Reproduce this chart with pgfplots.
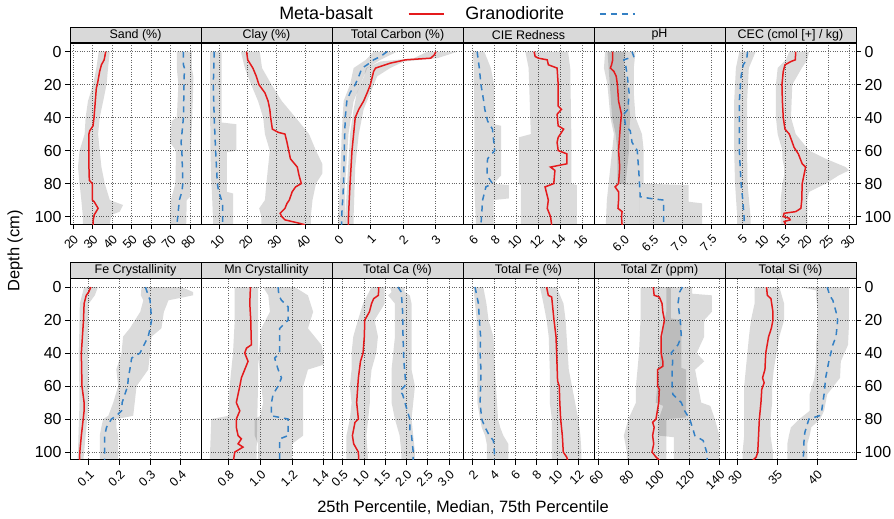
\documentclass[border=0pt]{standalone}
\usepackage{fontspec}
\setmainfont{Liberation Sans}
\usepackage{pgfplots}
\pgfplotsset{compat=1.18}
\definecolor{mbred}{RGB}{228,26,28}
\definecolor{gdblue}{RGB}{52,128,196}
\definecolor{stripgray}{RGB}{217,217,217}
\pgfplotsset{
  panel/.style={
    scale only axis, width=131bp, height=181bp, anchor=north west,
    y dir=reverse, ymin=-5.2, ymax=104.5, ytick={0,20,...,100},
    grid=major, major grid style={dotted, black!60, line width=0.6bp},
    axis line style={line width=0.8bp},
    tick align=outside, major tick length=5bp, tick style={black, line width=0.6bp},
    xtick pos=lower,
    /pgf/number format/assume math mode=true,
    yticklabel style={font=\fontsize{16}{16}\selectfont},
    xticklabel style={rotate=45, anchor=north east, font=\fontsize{12.5}{13}\selectfont},
    every axis title/.style={at={(0.5,1)}, anchor=south, draw=black, line width=0.8bp,
      fill=stripgray, minimum width=131bp, minimum height=15.5bp, inner sep=0pt,
      font=\fontsize{12.5}{13}\selectfont},
  },
  inner/.style={ytick style={draw=none}, yticklabels={}},
  first/.style={ytick pos=left},
  last/.style={ytick pos=right, yticklabel pos=right},
  band/.style={fill=black, fill opacity=0.14, draw=none, forget plot},
  mb/.style={mbred, line width=1.5bp, forget plot},
  gd/.style={gdblue, line width=1.5bp, dash pattern=on 6bp off 5bp, forget plot},
}
\begin{document}
\begin{tikzpicture}
\path[use as bounding box] (0,0) rectangle (894bp,-519bp);

% ---------- top row ----------
\begin{axis}[panel, first, at={(70bp,-43bp)}, title={Sand (\%)},
  xmin=18.5, xmax=85.6, xtick={20,30,...,80},
  legend plot pos=right, legend columns=2,
  legend image code/.code={\draw[#1] (0bp,0bp) -- (35bp,0bp);},
  legend style={at={(2.927,1.16)}, anchor=center, draw=none, fill=none,
    font=\fontsize{18}{18}\selectfont, nodes={inner xsep=8bp},
    /tikz/every odd column/.append style={column sep=27bp},
    /tikz/every even column/.append style={column sep=13bp}}]
\addplot[band] coordinates {(33.2,0) (32,10) (30.3,20) (27.7,30) (26.5,40) (26,50) (23.4,60) (22.6,70) (23.4,80) (24.3,90) (25.1,100) (25.1,106)
  (39,106) (39,104) (39.7,99) (44,97) (45.7,93) (38.9,90) (36.3,80) (34.6,70) (33.7,60) (32.9,50) (33.7,40) (35.5,30) (37.2,20) (38,10) (38.9,0)};
\addplot[band] coordinates {(73.2,0) (73.2,10) (74,20) (73.2,40) (70.6,42) (69.7,55) (72.8,60) (72.5,80) (70.1,90) (69.8,106)
  (78,106) (78.3,90) (80,88) (80.4,60) (80.9,45) (81.4,30) (81.7,15) (80.9,10) (80.9,0)};
\addplot[mb] coordinates {(36.8,0) (36,5) (34.6,8) (33.7,12) (32.5,20) (32,22) (30.8,40) (30.3,45) (28.6,48) (28.2,50) (28.1,60) (28.2,70) (28.4,78) (29.9,80) (30,90) (30.9,91) (31.9,93) (32.9,95) (31.9,97) (30.9,99) (30.4,102) (30.3,105)};
\addplot[gd] coordinates {(76.6,0) (76.6,8) (77.1,10) (76.9,20) (76.6,40) (75.4,55) (75.8,60) (76.3,80) (75.8,85) (74.5,90) (73.7,100) (73.2,105)};
\addlegendimage{mbred, line width=1.5bp}
\addlegendentry{Meta-basalt}
\addlegendimage{gdblue, line width=1.5bp, dash pattern=on 6bp off 5bp}
\addlegendentry{Granodiorite}
\end{axis}

\begin{axis}[panel, inner, at={(201bp,-43bp)}, title={Clay (\%)},
  xmin=3.7, xmax=49.4, xtick={10,20,30,40}]
\addplot[band] coordinates {(17.6,0) (19,10) (21.2,20) (23.6,30) (25.4,40) (26,50) (27.7,60) (27.1,70) (26.5,80) (26,90) (24,95) (24.8,100) (24.8,106)
  (42,106) (42,100) (42.6,90) (43.8,80) (46,74) (46,68) (43.8,60) (41.4,50) (36.7,40) (31.9,30) (28.3,20) (25,10) (24.2,0)};
\addplot[band] coordinates {(6.9,0) (6.9,40) (7,60) (7.3,80) (7.5,85) (8,106)
  (14.9,106) (14.9,86) (12.7,85) (12.7,61) (16,60) (16,44) (10.9,43) (10.9,0)};
\addplot[mb] coordinates {(19.6,0) (20,5) (21.8,10) (23,15) (23.9,20) (26,25) (27.1,30) (27.7,35) (28,40) (28.6,47) (30.7,49) (33,50) (33.7,55) (34.3,60) (34.9,65) (37.3,70) (37.9,75) (38.7,80) (36.7,82) (35.5,85) (34.5,90) (33.7,92) (33,95) (31.3,98) (31.9,100) (33,102) (37.9,104) (40,105)};
\addplot[gd] coordinates {(8.3,0) (8,20) (8.3,40) (8.8,60) (9.4,80) (9.9,85) (10.5,88) (11.2,92) (11.2,105)};
\end{axis}

\begin{axis}[panel, inner, at={(332bp,-43bp)}, title={Total Carbon (\%)},
  xmin=-0.2, xmax=3.86, xtick={0,1,2,3}]
\addplot[band] coordinates {(2.76,0) (2.34,4) (1.3,6) (0.85,10) (0.8,15) (0.57,25) (0.47,35) (0.36,50) (0.3,70) (0.21,100) (0.21,106)
  (0.47,106) (0.47,100) (0.52,70) (0.63,50) (0.78,35) (0.99,25) (1.2,15) (1.6,10) (2.03,6) (3.07,4) (3.7,0)};
\addplot[band] coordinates {(1.09,0) (0.85,5) (0.47,10) (0.36,20) (0.16,30) (0.1,50) (0.05,80) (0,100) (0,106)
  (0.21,106) (0.21,80) (0.31,50) (0.47,30) (0.68,20) (0.89,10) (1.3,5) (1.82,0)};
\addplot[mb] coordinates {(3.02,0) (2.97,2) (2.86,4) (2.08,5) (1.61,7) (1.3,9) (1.15,10) (1.09,12) (0.99,20) (0.89,25) (0.78,30) (0.63,35) (0.52,40) (0.47,50) (0.42,60) (0.36,80) (0.31,100) (0.31,105)};
\addplot[gd] coordinates {(1.51,0) (1.3,3) (1.09,5) (0.89,8) (0.73,10) (0.63,15) (0.52,20) (0.36,25) (0.26,30) (0.21,40) (0.18,60) (0.16,80) (0.1,100) (0.1,105)};
\end{axis}

\begin{axis}[panel, inner, at={(463bp,-43bp)}, title={CIE Redness},
  xmin=5.11, xmax=17.07, xtick={6,8,...,16}]
\addplot[band] coordinates {(10.8,0) (11.1,10) (11.3,50) (10.2,52) (10.2,80) (10.4,81) (10.4,106)
  (15.5,106) (15.5,81) (15,80) (15,50) (14.9,10) (14.7,0)};
\addplot[band] coordinates {(6,0) (6.1,10) (6.15,45) (6.15,80) (6.2,90) (6.3,106)
  (7.9,106) (7.9,90) (9.3,89) (9.3,81) (7.9,80) (8.6,75) (8.6,45) (7.95,44) (7.95,20) (7.65,10) (7.05,0)};
\addplot[mb] coordinates {(11.6,0) (11.7,3) (12,4) (12.8,5) (12.9,8) (13.7,10) (13.8,20) (13.8,33) (14.1,35) (13.7,38) (13.8,45) (14.3,47) (13.8,52) (13.7,55) (13.8,60) (14.6,62) (14.6,68) (13.1,70) (13.5,72) (13.4,80) (12.6,82) (12.9,90) (12.8,95) (13.1,100) (13.2,105)};
\addplot[gd] coordinates {(6.4,0) (6.6,10) (6.75,20) (7,30) (7.1,35) (7.35,42) (7.8,47) (8,60) (7.35,65) (7.3,75) (7.8,80) (7.2,82) (6.9,90) (6.8,100) (6.75,105)};
\end{axis}

\begin{axis}[panel, inner, at={(594bp,-43bp)}, title={pH},
  xmin=5.49, xmax=7.73, xtick={6,6.5,7,7.5}, xticklabels={6.0,6.5,7.0,7.5}]
\addplot[band] coordinates {(5.68,0) (5.66,10) (5.72,20) (5.77,40) (5.83,50) (5.8,60) (5.77,70) (5.74,80) (5.71,90) (5.69,106)
  (6.26,106) (6.26,81) (6.03,80) (6.06,70) (6.09,60) (6.09,50) (6.11,40) (6.06,20) (6.0,10) (6.03,0)};
\addplot[band] coordinates {(5.72,0) (5.74,10) (5.77,25) (5.8,40) (5.86,50) (5.89,60) (5.89,80) (6.26,81) (6.26,106)
  (7.34,106) (7.34,92) (7.11,91) (7.11,81) (6.34,80) (6.34,60) (6.31,50) (6.2,40) (6.17,25) (6.17,10) (6.2,0)};
\addplot[mb] coordinates {(5.81,0) (5.81,5) (5.79,8) (5.77,10) (5.83,12) (5.87,15) (5.89,20) (5.91,30) (5.96,38) (5.94,45) (5.93,50) (5.91,60) (5.93,70) (5.91,80) (5.85,82) (5.91,85) (5.91,90) (5.9,95) (5.97,97) (5.96,100) (5.97,105)};
\addplot[gd] coordinates {(6.14,0) (6.17,3) (6.0,5) (6.03,8) (6.06,15) (6.09,25) (6.07,35) (6.0,38) (6.03,45) (6.11,48) (6.14,55) (6.23,60) (6.26,75) (6.28,88) (6.45,89) (6.68,90) (6.68,105)};
\end{axis}

\begin{axis}[panel, last, at={(725bp,-43bp)}, title={CEC (cmol [+] / kg)},
  xmin=1.07, xmax=31.5, xtick={5,10,...,30}]
\addplot[band] coordinates {(16,0) (15.2,5) (13.3,10) (12.9,20) (12.9,40) (13.3,50) (14.4,60) (14.4,65) (14.8,70) (14.8,75) (14.4,80) (14,90) (14,106)
  (20.2,106) (20.2,90) (20.6,85) (24.5,80) (27.5,75) (29.9,72) (29.1,70) (24.5,65) (20.6,60) (17.5,50) (16.4,40) (16.7,20) (18.9,10) (20.2,5) (20.6,0)};
\addplot[band] coordinates {(4.4,0) (3.6,10) (3.2,30) (3.2,60) (3.4,80) (3.9,100) (3.9,106)
  (7,106) (7,100) (6.3,80) (6.2,60) (6.2,30) (6.6,10) (8.2,0)};
\addplot[mb] coordinates {(17.5,0) (17.4,5) (16.4,6) (15,8) (14.6,12) (14.3,20) (14.4,30) (14.6,40) (15,47) (16,50) (16.7,55) (17.1,58) (18.1,62) (19,68) (19.8,70) (19,80) (18.9,90) (18.7,95) (17.5,97) (14.8,98) (14.6,100) (16,101) (16.2,102) (14.8,103) (15.2,105)};
\addplot[gd] coordinates {(6.3,0) (6.1,5) (5.3,8) (4.8,15) (4.4,30) (4.4,45) (4.4,60) (4.8,80) (5.2,90) (5.5,100) (5.5,105)};
\end{axis}

% ---------- bottom row ----------
\begin{axis}[panel, first, at={(70bp,-278.5bp)}, title={Fe Crystallinity},
  xmin=0.039, xmax=0.466, xtick={0.1,0.2,0.3,0.4}, xticklabels={0.1,0.2,0.3,0.4}]
\addplot[band] coordinates {(0.085,0) (0.078,5) (0.071,10) (0.068,40) (0.07,70) (0.065,100) (0.063,106)
  (0.082,106) (0.085,100) (0.095,80) (0.1,70) (0.097,40) (0.1,10) (0.12,5) (0.13,0)};
\addplot[band] coordinates {(0.272,0) (0.27,5) (0.278,8) (0.268,15) (0.234,25) (0.212,30) (0.207,40) (0.19,50) (0.196,60) (0.18,70) (0.164,78) (0.147,80) (0.141,85) (0.136,90) (0.136,106)
  (0.196,106) (0.196,90) (0.19,85) (0.19,80) (0.245,78) (0.25,70) (0.256,60) (0.294,50) (0.3,40) (0.305,30) (0.337,25) (0.345,15) (0.36,8) (0.44,5) (0.44,3) (0.403,0)};
\addplot[mb] coordinates {(0.107,0) (0.1,3) (0.092,5) (0.085,10) (0.083,20) (0.076,40) (0.078,60) (0.085,70) (0.085,75) (0.082,80) (0.076,90) (0.071,100) (0.07,105)};
\addplot[gd] coordinates {(0.285,0) (0.294,5) (0.3,8) (0.305,20) (0.3,25) (0.294,30) (0.267,40) (0.24,43) (0.234,50) (0.229,55) (0.227,60) (0.218,65) (0.209,70) (0.207,75) (0.19,78) (0.174,80) (0.158,85) (0.152,90) (0.152,105)};
\end{axis}

\begin{axis}[panel, inner, at={(201bp,-278.5bp)}, title={Mn Crystallinity},
  xmin=0.625, xmax=1.452, xtick={0.8,1.0,1.2,1.4}, xticklabels={0.8,1.0,1.2,1.4}]
\addplot[band] coordinates {(0.838,0) (0.838,20) (0.827,40) (0.806,60) (0.8,78) (0.69,80) (0.68,106)
  (0.975,106) (0.98,80) (0.985,60) (0.985,40) (0.985,20) (0.985,0)};
\addplot[band] coordinates {(1.017,0) (1.05,5) (1.06,15) (1.006,25) (0.996,35) (0.985,43) (0.996,50) (1.006,60) (1.017,70) (1.0,78) (0.964,80) (0.964,90) (0.985,95) (0.985,106)
  (1.2,106) (1.2,95) (1.27,90) (1.27,80) (1.27,65) (1.27,60) (1.3,50) (1.4,47) (1.4,42) (1.385,35) (1.3,25) (1.333,15) (1.3,5) (1.217,0)};
\addplot[mb] coordinates {(0.937,0) (0.933,10) (0.939,20) (0.943,35) (0.912,37) (0.901,40) (0.922,45) (0.901,50) (0.88,55) (0.87,60) (0.859,65) (0.848,70) (0.87,75) (0.848,80) (0.848,85) (0.859,90) (0.88,92) (0.859,95) (0.89,97) (0.838,100) (0.83,105)};
\addplot[gd] coordinates {(1.112,0) (1.116,5) (1.133,8) (1.175,12) (1.175,20) (1.122,25) (1.122,40) (1.09,43) (1.112,50) (1.133,55) (1.112,60) (1.08,65) (1.07,70) (1.07,78) (1.175,80) (1.175,90) (1.122,92) (1.122,105)};
\end{axis}

\begin{axis}[panel, inner, at={(332bp,-278.5bp)}, title={Total Ca (\%)},
  xmin=0.25, xmax=3.33, xtick={0.5,1,1.5,2,2.5,3}, xticklabels={0.5,1.0,1.5,2.0,2.5,3.0}]
\addplot[band] coordinates {(1.18,0) (0.98,10) (0.86,20) (0.75,30) (0.71,40) (0.71,50) (0.67,60) (0.71,70) (0.67,80) (0.59,90) (0.59,106)
  (1.1,106) (1.06,90) (1.1,80) (1.14,70) (1.14,60) (1.18,50) (1.29,40) (1.33,30) (1.25,20) (1.49,10) (1.49,0)};
\addplot[band] coordinates {(1.61,0) (1.65,3) (1.57,5) (1.73,10) (1.73,30) (1.65,50) (1.65,70) (1.73,80) (1.84,90) (1.88,100) (1.88,106)
  (2.2,106) (2.2,100) (2.16,90) (2.12,80) (2.16,70) (2.2,60) (2.12,50) (2.12,30) (2.12,10) (2.08,5) (1.96,3) (1.96,0)};
\addplot[mb] coordinates {(1.35,0) (1.34,5) (1.23,7) (1.18,10) (1.13,15) (1.02,20) (1.01,30) (0.98,40) (0.92,45) (0.87,55) (0.83,70) (0.87,80) (0.79,82) (0.73,90) (0.76,95) (0.87,100) (0.88,105)};
\addplot[gd] coordinates {(1.8,0) (1.88,3) (1.91,15) (1.92,30) (1.94,45) (1.98,57) (1.96,60) (1.84,63) (1.91,65) (2.02,75) (2.08,80) (2.08,88) (2.12,90) (2.16,100) (2.16,105)};
\end{axis}

\begin{axis}[panel, inner, at={(463bp,-278.5bp)}, title={Total Fe (\%)},
  xmin=1.08, xmax=13.49, xtick={2,4,...,12}]
\addplot[band] coordinates {(8.37,0) (8.7,10) (9.0,20) (9.2,30) (9.3,50) (9.3,60) (9.3,70) (9.5,80) (9.5,106)
  (12.3,106) (12.3,100) (12.2,90) (12,80) (11.7,70) (11.4,60) (11.1,50) (10.9,30) (10.8,20) (10.6,10) (9.95,0)};
\addplot[band] coordinates {(2.06,0) (2.22,10) (2.38,20) (2.38,30) (2.44,50) (2.44,70) (2.7,80) (2.85,85) (3.17,90) (3.33,95) (3.33,106)
  (5.37,106) (5.37,95) (4.9,90) (4.6,85) (4.4,80) (4.3,70) (4.1,50) (3.96,30) (3.5,20) (3.3,10) (3.0,0)};
\addplot[mb] coordinates {(9.0,0) (9.16,5) (9.48,6) (9.7,20) (9.89,30) (9.95,40) (10.04,57) (10.2,60) (10.25,70) (10.33,80) (10.49,90) (10.58,100) (10.9,103) (11,105)};
\addplot[gd] coordinates {(2.22,0) (2.38,5) (2.54,10) (2.63,20) (2.75,30) (2.7,40) (2.78,50) (2.75,60) (2.7,70) (2.85,80) (3.17,85) (3.58,90) (3.96,93) (4.05,100) (4.05,105)};
\end{axis}

\begin{axis}[panel, inner, at={(594bp,-278.5bp)}, title={Total Zr (ppm)},
  xmin=57.35, xmax=143.7, xtick={60,80,...,140}]
\addplot[band] coordinates {(88,0) (88,20) (87,40) (86,50) (85,60) (85,70) (80,80) (77,90) (79,100) (79,106)
  (105,106) (105,80) (118,79) (118,50) (115,49) (115,20) (108,19) (108,0)};
\addplot[band] coordinates {(105,0) (105,15) (103,25) (100,50) (98,70) (103,72) (100,80) (100,90) (110,91) (110,106)
  (140,106) (140,90) (137,80) (134,72) (128,70) (124,50) (130,45) (125,40) (130,30) (130,20) (135,15) (135,5) (122,4) (122,0)};
\addplot[mb] coordinates {(96.4,0) (97,5) (100.4,6) (102.2,10) (102.7,15) (103.8,20) (102.7,25) (101.6,30) (101.6,40) (102.7,45) (102.7,48) (99.3,50) (99.3,60) (100.4,62) (100,70) (98.2,80) (96,82) (97,85) (96,90) (96.7,95) (95.6,100) (98.2,103) (100.4,105)};
\addplot[gd] coordinates {(115.6,0) (113.8,3) (112.7,10) (114.2,20) (114.9,30) (112.7,35) (108.2,40) (109.3,43) (108.9,50) (108.9,60) (109.3,65) (114.9,70) (117.1,75) (120.4,80) (122.2,85) (123.8,90) (129.3,93) (131.6,100) (132,105)};
\end{axis}

\begin{axis}[panel, last, at={(725bp,-278.5bp)}, title={Total Si (\%)},
  xmin=28.5, xmax=44.9, xtick={30,35,40}]
\addplot[band] coordinates {(32.2,0) (32.2,10) (31.75,20) (31.5,30) (31.1,50) (30.9,60) (30.9,90) (30.7,100) (30.7,106)
  (34.5,106) (34.5,100) (34.2,90) (34.2,80) (34.4,70) (34.4,60) (34.6,50) (35.3,30) (35.9,20) (35.9,10) (35.3,0)};
\addplot[band] coordinates {(38,0) (39.9,2) (39.9,5) (40.1,15) (40.1,25) (39.9,35) (39.9,45) (39.7,55) (39.1,65) (39.1,75) (37.8,80) (36.75,85) (36.5,90) (36.3,95) (36.3,106)
  (38.8,106) (38.8,95) (39.1,90) (39.3,85) (40.4,80) (40.9,75) (41.3,65) (42.9,55) (43,45) (43.9,35) (44,25) (44,15) (44,5) (44,0)};
\addplot[mb] coordinates {(33.7,0) (33.8,5) (34.25,7) (34.5,15) (34.5,20) (34.3,25) (33.96,30) (33.6,40) (33.5,50) (33.2,55) (33.4,58) (33.1,62) (33,70) (32.8,80) (32.7,90) (32.6,100) (32.4,103) (32,105)};
\addplot[gd] coordinates {(41.3,0) (41.6,5) (42,8) (42.4,15) (42.6,20) (42.4,30) (42,35) (41.5,45) (41.1,55) (40.9,65) (40.6,75) (40.3,78) (39,80) (38.5,88) (38.4,92) (38.3,105)};
\end{axis}

\node[rotate=90, font=\fontsize{16.5}{17}\selectfont] at (15bp,-251bp) {Depth (cm)};
\node[font=\fontsize{16.5}{17}\selectfont] at (463bp,-508bp) {25th Percentile, Median, 75th Percentile};
\end{tikzpicture}
\end{document}
